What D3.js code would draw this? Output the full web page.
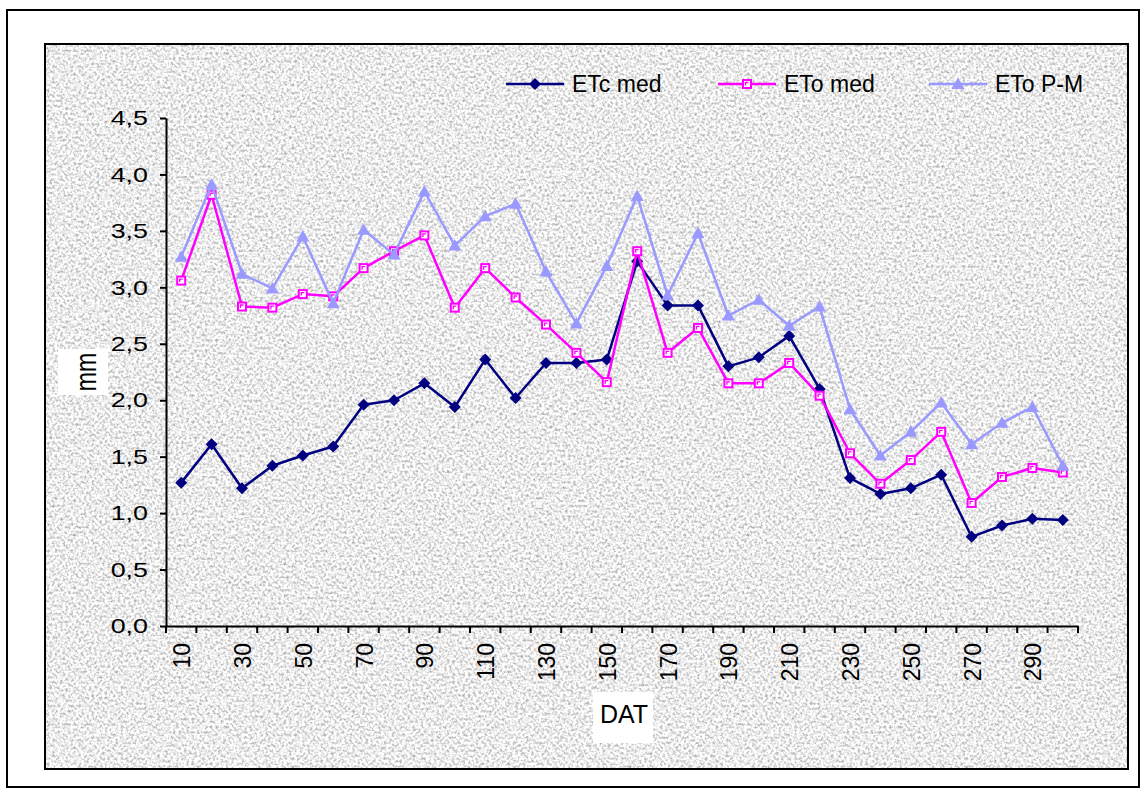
<!DOCTYPE html>
<html>
<head>
<meta charset="utf-8">
<script src="https://cdn.jsdelivr.net/npm/d3@7"></script>
<style>
  body { margin: 0; background: #fff; }
  svg { display: block; }
  text { font-family: Arial, "Liberation Sans", sans-serif; fill: #000; }
</style>
</head>
<body>
<svg id="chart"></svg>
<script>
// data
const days = [10, 20, 30, 40, 50, 60, 70, 80, 90, 100, 110, 120, 130, 140, 150,
  160, 170, 180, 190, 200, 210, 220, 230, 240, 250, 260, 270, 280, 290, 300]
const etcMed = [1.27, 1.61, 1.22, 1.42, 1.51, 1.59, 1.96, 2.00, 2.15, 1.94, 2.36, 2.02, 2.33, 2.33, 2.36,
  3.23, 2.84, 2.84, 2.30, 2.38, 2.57, 2.10, 1.31, 1.17, 1.22, 1.34, 0.79, 0.89, 0.95, 0.94]
const etoMed = [3.06, 3.82, 2.83, 2.82, 2.94, 2.92, 3.17, 3.32, 3.46, 2.82, 3.17, 2.91, 2.67, 2.42, 2.16,
  3.32, 2.42, 2.64, 2.15, 2.15, 2.33, 2.04, 1.53, 1.26, 1.47, 1.72, 1.09, 1.32, 1.40, 1.36]
const etoPM = [3.27, 3.91, 3.12, 2.99, 3.45, 2.86, 3.51, 3.29, 3.85, 3.37, 3.63, 3.74, 3.14, 2.68, 3.19,
  3.81, 2.93, 3.48, 2.75, 2.89, 2.66, 2.83, 1.92, 1.51, 1.72, 1.98, 1.61, 1.80, 1.94, 1.42]
const yTicks = [0, 0.5, 1, 1.5, 2, 2.5, 3, 3.5, 4, 4.5]
const seriesNames = ["ETc med", "ETo med", "ETo P-M"]

const W = 1146, H = 792

const svg = d3.select("#chart").attr("width", W).attr("height", H)

// grainy grey texture like the excel fill
const defs = svg.append("defs")
const grain = defs.append("filter")
  .attr("id", "grain")
  .attr("filterUnits", "userSpaceOnUse")
  .attr("x", 45).attr("y", 44).attr("width", 1083).attr("height", 725)
  .attr("color-interpolation-filters", "sRGB")
grain.append("feTurbulence")
  .attr("type", "fractalNoise")
  .attr("baseFrequency", 0.38)
  .attr("numOctaves", 2)
  .attr("seed", 7)
grain.append("feColorMatrix")
  .attr("type", "matrix")
  .attr("values", "0.75 0 0 0 0.55  0.75 0 0 0 0.55  0.75 0 0 0 0.55  0 0 0 0 1")

// outer frame
svg.append("rect")
  .attr("x", 7).attr("y", 10).attr("width", 1132).attr("height", 777)
  .attr("fill", "#fff").attr("stroke", "#000").attr("stroke-width", 2)

// textured plot area
svg.append("rect")
  .attr("x", 45).attr("y", 44).attr("width", 1083).attr("height", 725)
  .attr("fill", "#e8e8e8").attr("filter", "url(#grain)")
svg.append("rect")
  .attr("x", 45).attr("y", 44).attr("width", 1083).attr("height", 725)
  .attr("fill", "none").attr("stroke", "#000").attr("stroke-width", 2)

let x = d3.scaleBand().domain(days).range([166, 1078])
let y = d3.scaleLinear().domain([0, 4.5]).range([626, 118])
let bw = x.bandwidth()
let cx = d => x(d) + bw / 2

// y axis
let yStretch = 1.28
let yAxis = svg.append("g")
  .attr("transform", "translate(166,0)")
  .call(d3.axisLeft(y).tickValues(yTicks).tickSize(6).tickSizeOuter(0).tickPadding(12)
    .tickFormat(v => d3.format(".1f")(v).replace(".", ",")))
yAxis.select(".domain").attr("stroke-width", 2)
yAxis.selectAll(".tick line").attr("stroke-width", 2)
yAxis.selectAll(".tick text")
  .attr("font-size", 21)
  .attr("font-family", "Arial, 'Liberation Sans', sans-serif")
  .attr("x", -18 / yStretch)
  .attr("transform", "scale(" + yStretch + ",1)")

// x axis: labels on every other day, ticks between categories
let xAxis = svg.append("g")
  .attr("transform", "translate(0,626)")
  .call(d3.axisBottom(x).tickSize(0).tickSizeOuter(0)
    .tickFormat((d, i) => i % 2 == 0 ? d : ""))
xAxis.select(".domain").attr("stroke-width", 2)
xAxis.selectAll(".tick text")
  .attr("font-size", 23)
  .attr("font-family", "Arial, 'Liberation Sans', sans-serif")
  .attr("transform", "scale(1.08,1) rotate(-90)")
  .attr("text-anchor", "end")
  .attr("x", -17)
  .attr("y", 0)
  .attr("dy", "0.36em")

let bounds = days.map(d => x(d)).concat([x.range()[1]])
xAxis.selectAll(".bound")
  .data(bounds)
  .enter()
  .append("line")
  .attr("class", "bound")
  .attr("x1", d => d).attr("x2", d => d)
  .attr("y1", 0).attr("y2", 7)
  .attr("stroke", "#000").attr("stroke-width", 2)

// axis titles with their white boxes
svg.append("rect").attr("x", 58).attr("y", 349).attr("width", 50).attr("height", 46).attr("fill", "#fff")
svg.append("text")
  .attr("transform", "translate(85,372) scale(1.3,1) rotate(-90)")
  .attr("text-anchor", "middle")
  .attr("dy", "0.36em")
  .attr("font-size", 23)
  .text("mm")

svg.append("rect").attr("x", 593).attr("y", 692).attr("width", 60).attr("height", 51).attr("fill", "#fff")
svg.append("text")
  .attr("x", 624).attr("y", 723)
  .attr("text-anchor", "middle")
  .attr("font-size", 25)
  .text("DAT")

// markers
const diamond = "M0,-6L6,0L0,6L-6,0Z"
const triangle = "M0,-6.5L6.5,5L-6.5,5Z"

function drawMarker(g, kind, color) {
  if (kind == "diamond") {
    g.append("path").attr("d", diamond).attr("fill", color)
  } else if (kind == "square") {
    g.append("rect").attr("x", -4).attr("y", -4).attr("width", 8).attr("height", 8)
      .attr("fill", "#fff").attr("stroke", color).attr("stroke-width", 2)
    g.append("path").attr("d", "M-1.5,1.5V-1.5H1.5").attr("fill", "none")
      .attr("stroke", color).attr("stroke-width", 1.3)
  } else {
    g.append("path").attr("d", triangle).attr("fill", color)
  }
}

const series = [
  { name: seriesNames[0], values: etcMed, color: "#000080", marker: "diamond" },
  { name: seriesNames[1], values: etoMed, color: "#FF00FF", marker: "square" },
  { name: seriesNames[2], values: etoPM, color: "#9999FF", marker: "triangle" }
]

let line = d3.line()
  .x((v, i) => cx(days[i]))
  .y(v => y(v))

series.forEach(s => {
  svg.append("path")
    .datum(s.values)
    .attr("d", line)
    .attr("fill", "none")
    .attr("stroke", s.color)
    .attr("stroke-width", 2.5)
    .attr("stroke-linejoin", "round")

  svg.append("g")
    .selectAll("g")
    .data(s.values)
    .enter()
    .append("g")
    .attr("transform", (v, i) => "translate(" + cx(days[i]) + "," + y(v) + ")")
    .each(function() { drawMarker(d3.select(this), s.marker, s.color) })
})

// legend
let legendX = [506, 718, 929]
series.forEach((s, i) => {
  let lg = svg.append("g").attr("transform", "translate(" + legendX[i] + ",84)")
  lg.append("line").attr("x1", 0).attr("x2", 58).attr("y1", 0).attr("y2", 0)
    .attr("stroke", s.color).attr("stroke-width", 2.5)
  let m = lg.append("g").attr("transform", "translate(29,0)")
  drawMarker(m, s.marker, s.color)
  lg.append("text")
    .attr("x", 66).attr("dy", "0.36em")
    .attr("font-size", 23)
    .text(s.name)
})
</script>
</body>
</html>
